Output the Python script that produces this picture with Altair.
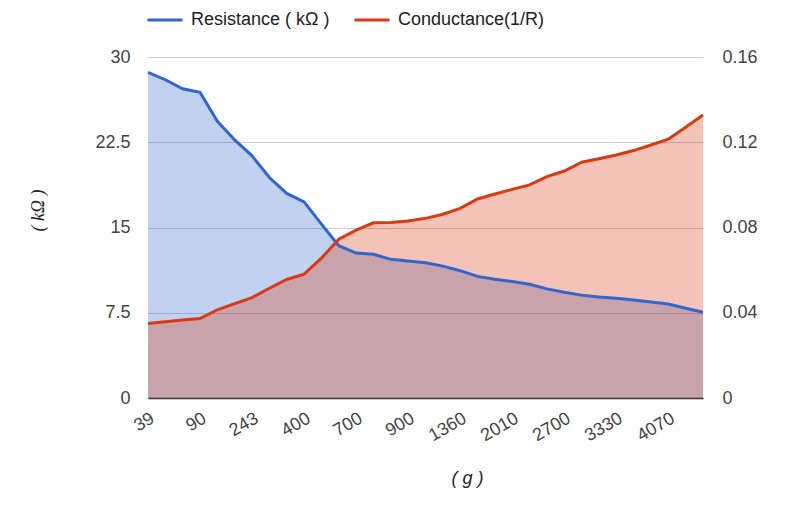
import altair as alt
import pandas as pd

# x tick labels (every third sample is labelled)
weights = ["39", "90", "243", "400", "700", "900", "1360", "2010", "2700", "3330", "4070"]

# Resistance (kΩ)
resistance = [28.65, 28.0, 27.2, 26.9, 24.35, 22.7, 21.3, 19.4, 18.0, 17.25, 15.3,
              13.4, 12.75, 12.65, 12.2, 12.05, 11.9, 11.6, 11.2, 10.7, 10.45,
              10.25, 10.0, 9.6, 9.3, 9.05, 8.88, 8.77, 8.62, 8.44, 8.27, 7.9, 7.54]

# Conductance (1/R)
conductance = [0.0350, 0.0358, 0.0366, 0.0373, 0.0414, 0.0443, 0.0471, 0.0515, 0.0556,
               0.0581, 0.0656, 0.0745, 0.0788, 0.0822, 0.0824, 0.0831, 0.0843, 0.0862,
               0.0890, 0.0934, 0.0957, 0.0979, 0.1000, 0.1039, 0.1065, 0.1106, 0.1123,
               0.1140, 0.1161, 0.1187, 0.1214, 0.1270, 0.1328]

series_names = ["Resistance ( kΩ )", "Conductance(1/R)"]
colors = ["#3366cc", "#dc3912"]

n = len(resistance)
df = pd.DataFrame({"idx": list(range(n)), "R": resistance, "C": conductance})
df_r = df.assign(series=series_names[0])
df_c = df.assign(series=series_names[1])

label_expr = "[" + ",".join(f"'{w}'" for w in weights) + "][round(datum.value/3)]"

FONT = "Liberation Sans"

x = alt.X(
    "idx:Q",
    scale=alt.Scale(domain=[0, n - 1], nice=False, zero=False),
    axis=alt.Axis(
        values=list(range(0, 3 * len(weights), 3)),
        labelExpr=label_expr,
        labelAngle=-30,
        labelAlign="right",
        labelBaseline="top",
        labelPadding=11,
        ticks=False,
        grid=False,
        domainColor="#333333",
        domainWidth=1.5,
        title="( g )",
        titleFont=FONT,
        titleFontStyle="italic",
        titleFontWeight="normal",
        titleFontSize=18,
        titleColor="#222222",
        titleX=319,
        titleY=80,
        titleBaseline="middle",
        zindex=1,
    ),
)

yR_axis = alt.Axis(
    orient="left",
    values=[0, 7.5, 15, 22.5, 30],
    format=".1~f",
    grid=True,
    gridColor="#cccccc",
    domain=False,
    ticks=False,
    labelPadding=18,
    title="( kΩ )",
    titleFont="Liberation Serif",
    titleFontStyle="italic",
    titleFontWeight="normal",
    titleFontSize=18,
    titleColor="#222222",
    titleX=-110,
    titleY=153,
    titleAlign="center",
    titleBaseline="middle",
)
yC_axis = alt.Axis(
    orient="right",
    values=[0, 0.04, 0.08, 0.12, 0.16],
    format=".2~f",
    grid=False,
    domain=False,
    ticks=False,
    labelPadding=19,
    title=None,
)

yR_scale = alt.Scale(domain=[0, 30], nice=False, zero=True)
yC_scale = alt.Scale(domain=[0, 0.16], nice=False, zero=True)

color = alt.Color(
    "series:N",
    scale=alt.Scale(domain=series_names, range=colors),
    legend=alt.Legend(
        orient="none",
        legendX=-2,
        legendY=-56,
        direction="horizontal",
        title=None,
        symbolType="stroke",
        symbolSize=1225,
        symbolStrokeWidth=3,
        labelFont=FONT,
        labelFontSize=18,
        labelColor="#222222",
        labelOffset=7,
        columnPadding=18,
    ),
)

area_r = alt.Chart(df_r).mark_area(color=colors[0], opacity=0.3).encode(
    x=x, y=alt.Y("R:Q", scale=yR_scale, axis=yR_axis)
)
area_c = alt.Chart(df_c).mark_area(color=colors[1], opacity=0.3).encode(
    x=x, y=alt.Y("C:Q", scale=yC_scale, axis=yC_axis)
)
line_r = alt.Chart(df_r).mark_line(strokeWidth=3).encode(
    x=x, y=alt.Y("R:Q", scale=yR_scale, axis=None), color=color
)
line_c = alt.Chart(df_c).mark_line(strokeWidth=3).encode(
    x=x, y=alt.Y("C:Q", scale=yC_scale, axis=None), color=color
)

chart = (
    alt.layer(area_r, area_c, line_r, line_c)
    .resolve_scale(y="independent")
    .properties(
        width=555,
        height=341,
        autosize=alt.AutoSizeParams(type="none"),
        padding={"left": 140, "top": 49, "right": 90, "bottom": 100},
        background="white",
    )
    .configure_view(stroke=None)
    .configure_axis(
        labelFont=FONT,
        labelFontSize=18,
        labelColor="#444444",
    )
)

chart.save("out.html", embed_options={"renderer": "svg", "actions": False})
